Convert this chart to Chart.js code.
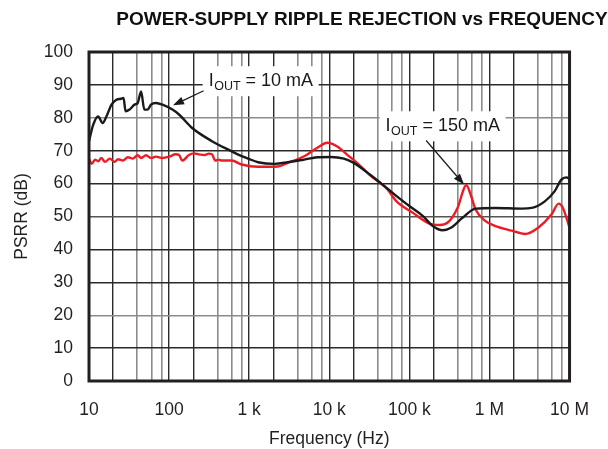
<!DOCTYPE html>
<html><head><meta charset="utf-8">
<script src="https://cdn.jsdelivr.net/npm/chart.js@4.4.1/dist/chart.umd.min.js"></script>
<style>html,body{margin:0;padding:0;background:#fff;}#wrap{width:608px;height:449px;position:relative;}</style>
</head><body><div id="wrap"><canvas id="c" width="608" height="449"></canvas></div>
<script>
// ---- data ----
const freq10mA = [10,11.3,13.0,14.8,16.5,19.1,22.0,25.3,27.0,28.6,32.1,37.0,40.6,44.7,49.1,54.0,59.4,68.5,82.6,110,133,194,343,604,731,972,1290,2080,3030,4870,7110,10400,15200,20200,32400,52000,69200,101000,148000,196000,261000,330000,460000,671000,1190000,2540000,3370000,4910000,6530000,7900000,9100000,10000000];
const psrr10mA = [72.9,77.9,80.4,78.4,80.4,84,85.5,85.8,86,82,82.5,84,84.5,88,82.5,82.5,84,84.5,84,82.5,81,76.9,72.9,69.8,68.8,67.6,66.5,66,66.5,67.3,68,68.1,67.6,66.3,62.7,58.7,56.2,53.1,50.1,47.1,45.8,46.6,49.6,52.4,52.6,52.4,52.6,54.6,57.7,61.2,61.9,61.5];
const freq150mA = [10,10.8,11.9,13.0,14.3,15.8,18.2,20.9,23.0,26.5,30.6,35.2,40.6,44.7,51.5,59.4,68.5,82.6,100,121,133,146,177,204,235,284,312,343,377,414,455,604,804,1290,2280,3030,4870,7110,9440,12560,16680,22180,32400,52000,69200,111000,178000,237000,315000,399000,515000,582000,671000,893000,1190000,1900000,2780000,4060000,5940000,7310000,8260000,10000000];
const psrr150mA = [67.6,66,67.3,66.8,67.8,66.6,67.6,66.6,67.4,67,68,67.6,68.6,67.8,68.6,67.8,68.2,67.8,68.2,68.9,68.7,67,68.7,69.2,68.9,68.7,69.1,68.9,67,67.3,67,67,65.8,65.1,65.2,66.3,68.3,70.9,72.4,71.3,68.8,66.3,62.5,58.5,54.6,51.1,47.8,47.4,48.6,52.6,59.5,56.7,52.1,48.6,47.1,45.7,44.7,46.6,50.6,53.9,52.6,46.6];
const yTickValues = [0,10,20,30,40,50,60,70,80,90,100];
const xGridValues = [10,20,40,60,80,100,200,400,600,800,1e3,2e3,4e3,6e3,8e3,1e4,2e4,4e4,6e4,8e4,1e5,2e5,4e5,6e5,8e5,1e6,2e6,4e6,6e6,8e6,1e7];
const decadeValues = [10,100,1e3,1e4,1e5,1e6,1e7];
const decadeLabels = ['10','100','1 k','10 k','100 k','1 M','10 M'];
const chartTitle = 'POWER-SUPPLY RIPPLE REJECTION vs FREQUENCY';
const xAxisTitle = 'Frequency (Hz)';
const yAxisTitle = 'PSRR (dB)';
// annotation: [main, subscript, rest], text anchor (freq, dB), arrow from/to (freq, dB)
const label10 = ['I','OUT',' = 10 mA'];
const label10Anchor = [312, 89.6];
const arrow10 = [[270, 88.2],[112, 83.8]];
const label150 = ['I','OUT',' = 150 mA'];
const label150Anchor = [50500, 75.9];
const arrow150 = [[162000, 73.1],[482000, 59.7]];

const FONT = '"Liberation Sans", Arial, Helvetica, sans-serif';
const isDecade = v => decadeValues.some(d => Math.abs(v - d) / d < 1e-6);
const isDark = v => { const m = v / Math.pow(10, Math.floor(Math.log10(v) + 1e-9)); return Math.abs(m - 1) < 1e-6 || Math.abs(m - 2) < 1e-6; };

function drawLabel(ctx, chart, parts, anchor) {
  const xs = chart.scales.x, ys = chart.scales.y;
  const x0 = xs.getPixelForValue(anchor[0]);
  const y0 = ys.getPixelForValue(anchor[1]);
  const mainF = '18px ' + FONT, subF = '12.5px ' + FONT;
  ctx.font = mainF; const w1 = ctx.measureText(parts[0]).width;
  ctx.font = subF; const w2 = ctx.measureText(parts[1]).width;
  ctx.font = mainF; const w3 = ctx.measureText(parts[2]).width;
  const total = w1 + w2 + w3;
  ctx.fillStyle = '#fff';
  ctx.fillRect(x0 - 6, y0 - 20, total + 12, 30);
  ctx.fillStyle = '#1a1a1a';
  ctx.textBaseline = 'alphabetic'; ctx.textAlign = 'left';
  ctx.font = mainF; ctx.fillText(parts[0], x0, y0);
  ctx.font = subF; ctx.fillText(parts[1], x0 + w1 + 0.5, y0 + 4);
  ctx.font = mainF; ctx.fillText(parts[2], x0 + w1 + w2 + 0.5, y0);
}
function drawArrow(ctx, chart, a) {
  const xs = chart.scales.x, ys = chart.scales.y;
  const x1 = xs.getPixelForValue(a[0][0]), y1 = ys.getPixelForValue(a[0][1]);
  const x2 = xs.getPixelForValue(a[1][0]), y2 = ys.getPixelForValue(a[1][1]);
  const ang = Math.atan2(y2 - y1, x2 - x1);
  const L = 11, W = 4;
  ctx.strokeStyle = '#1a1a1a'; ctx.lineWidth = 1.2;
  ctx.beginPath(); ctx.moveTo(x1, y1);
  ctx.lineTo(x2 - Math.cos(ang) * L, y2 - Math.sin(ang) * L); ctx.stroke();
  ctx.fillStyle = '#1a1a1a';
  ctx.beginPath(); ctx.moveTo(x2, y2);
  ctx.lineTo(x2 - Math.cos(ang) * L - Math.sin(ang) * W, y2 - Math.sin(ang) * L + Math.cos(ang) * W);
  ctx.lineTo(x2 - Math.cos(ang) * L + Math.sin(ang) * W, y2 - Math.sin(ang) * L - Math.cos(ang) * W);
  ctx.closePath(); ctx.fill();
}

const decorPlugin = {
  id: 'decor',
  beforeDatasetsDraw(chart) {
    const ctx = chart.ctx; ctx.save();
    drawLabel(ctx, chart, label10, label10Anchor);
    drawLabel(ctx, chart, label150, label150Anchor);
    ctx.restore();
  },
  afterDatasetsDraw(chart) {
    const ctx = chart.ctx; ctx.save();
    drawArrow(ctx, chart, arrow10);
    drawArrow(ctx, chart, arrow150);
    ctx.restore();
  },
  afterDraw(chart) {
    const ctx = chart.ctx, a = chart.chartArea;
    ctx.save();
    ctx.strokeStyle = '#231f20'; ctx.lineWidth = 3;
    ctx.strokeRect(a.left, a.top, a.right - a.left, a.bottom - a.top);
    ctx.fillStyle = '#111';
    ctx.textAlign = 'center'; ctx.textBaseline = 'middle';
    ctx.font = 'bold 19px ' + FONT;
    ctx.fillText(chartTitle, 362, 19.5);
    ctx.font = '17.5px ' + FONT;
    ctx.fillStyle = '#231f20';
    ctx.fillText(xAxisTitle, (a.left + a.right) / 2, 439);
    ctx.translate(22, (a.top + a.bottom) / 2);
    ctx.rotate(-Math.PI / 2);
    ctx.fillText(yAxisTitle, 0, 0);
    ctx.restore();
  }
};

new Chart(document.getElementById('c'), {
  type: 'line',
  data: {
    datasets: [
      { label: 'IOUT = 10 mA', data: freq10mA.map((f, i) => ({x: f, y: psrr10mA[i]})),
        borderColor: '#1a1a1a', borderWidth: 2.4, pointRadius: 0, cubicInterpolationMode: 'monotone', fill: false },
      { label: 'IOUT = 150 mA', data: freq150mA.map((f, i) => ({x: f, y: psrr150mA[i]})),
        borderColor: '#ed1c24', borderWidth: 2.4, pointRadius: 0, cubicInterpolationMode: 'monotone', fill: false }
    ]
  },
  options: {
    responsive: false, animation: false, devicePixelRatio: 1,
    layout: { padding: { top: 52, right: 33, left: 0, bottom: 0 } },
    plugins: { legend: { display: false }, title: { display: false }, tooltip: { enabled: false } },
    scales: {
      x: {
        type: 'logarithmic', min: 10, max: 1e7,
        afterBuildTicks: s => { s.ticks = xGridValues.map(v => ({ value: v })); },
        afterFit: s => { s.height = 68; },
        border: { display: false },
        grid: {
          drawTicks: false,
          color: c => isDark(c.tick.value) ? '#2a2a2a' : '#8c8c8c',
          lineWidth: c => isDark(c.tick.value) ? 1.4 : 1.6
        },
        ticks: {
          autoSkip: false, maxRotation: 0, minRotation: 0, padding: 19,
          color: '#231f20', font: { family: FONT, size: 17.5 },
          callback: v => { const i = decadeValues.findIndex(d => Math.abs(v - d) / d < 1e-6); return i >= 0 ? decadeLabels[i] : ''; }
        }
      },
      y: {
        type: 'linear', min: 0, max: 100,
        afterBuildTicks: s => { s.ticks = yTickValues.map(v => ({ value: v })); },
        afterFit: s => { s.width = 89; },
        border: { display: false },
        grid: {
          drawTicks: false,
          color: c => (c.tick.value === 80 || c.tick.value === 20) ? '#8c8c8c' : (c.tick.value === 50 ? '#555' : '#2a2a2a'),
          lineWidth: 1.4
        },
        ticks: { padding: 16, color: '#231f20', font: { family: FONT, size: 17.5 } }
      }
    }
  },
  plugins: [decorPlugin]
});
</script>
</body></html>
